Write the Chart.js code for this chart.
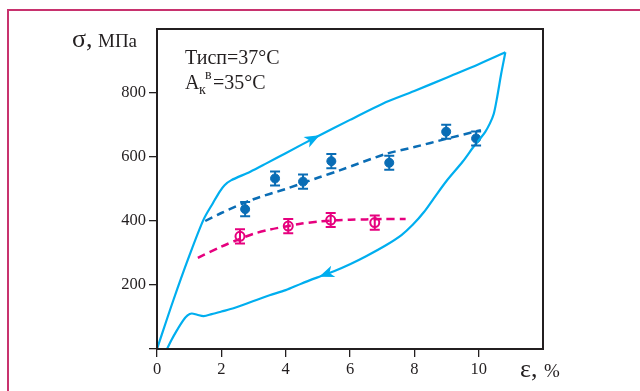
<!DOCTYPE html>
<html>
<head>
<meta charset="utf-8">
<script src="https://cdn.jsdelivr.net/npm/chart.js@4.4.1/dist/chart.umd.min.js"></script>
<style>
  body { margin: 0; background: #fff; }
  #wrap { position: relative; width: 640px; height: 391px; overflow: hidden; }
  #frame { position: absolute; left: 7px; top: 9px; width: 700px; height: 400px;
           border-top: 2px solid #c8326e; border-left: 2px solid #c8326e; }
  #chart { position: absolute; left: 0; top: 0; }
</style>
</head>
<body>
<div id="wrap">
  <div id="frame"></div>
  <canvas id="chart" width="640" height="391"></canvas>
</div>
<script>
// loading branch of the loop (strain %, stress MPa)
const loadStrain = [0, 0.5, 1.0, 1.45, 1.75, 1.95, 2.1, 2.3, 2.9, 3.4, 4, 5, 6, 7, 8, 9, 10, 10.83];
const loadStress = [0, 150, 290, 405, 458, 492, 512, 527, 554, 580, 612, 665, 716, 766, 806, 848, 890, 927];

// unloading branch
const unloadStrain = [10.83, 10.7, 10.58, 10.47, 10.35, 10.2, 10.0, 9.84, 9.5, 9.0, 8.6, 8.3, 7.95, 7.6, 7.13, 6.5, 6.0, 5.5, 5.1, 4.5, 4.0, 3.5, 3.0, 2.4, 2.0, 1.7, 1.45, 1.25, 1.08, 0.95, 0.82, 0.6, 0.45, 0.31];
const unloadStress = [927, 860, 790, 735, 705, 678, 652, 632, 585, 525, 470, 428, 388, 356, 325, 290, 265, 243, 228, 205, 184, 168, 150, 128, 117, 109, 103, 107, 111, 105, 90, 55, 28, 0];

// blue dashed fit
const fitBlueStrain = [1.5, 2, 3, 4, 5, 5.7, 7.1, 8, 9, 10.07];
const fitBlueStress = [400, 425, 468, 500, 535, 559, 609, 631, 657, 684];

// pink dashed fit
const fitPinkStrain = [1.27, 2, 2.6, 3, 3.5, 4, 4.5, 5, 5.5, 6, 6.5, 7, 7.73];
const fitPinkStress = [285, 320, 345, 360, 373, 383, 392, 398, 402, 404, 405, 406, 406];

// measured points with error bars
const blueStrain = [2.74, 3.67, 4.54, 5.42, 7.22, 8.99, 9.92];
const blueStress = [437, 533, 523, 587, 582, 679, 658];
const blueErr = [22, 22, 22, 22, 22, 22, 22];

const pinkStrain = [2.58, 4.08, 5.40, 6.77];
const pinkStress = [352, 384, 403, 395];
const pinkErr = [22, 22, 22, 22];

const xTicks = [0, 2, 4, 6, 8, 10];
const yTicks = [200, 400, 600, 800];

const CYAN = '#00aeef', BLUE = '#0a6db5', PINK = '#e6007e', DARK = '#231f20';
const SERIF = '"Liberation Serif", "DejaVu Serif", serif';

const zip = (xs, ys) => xs.map((x, i) => ({ x: x, y: ys[i] }));

// error bars + arrow heads, drawn through the chart scales
const extras = {
    id: 'extras',
    afterDatasetsDraw(chart) {
        const ctx = chart.ctx;
        const xs = chart.scales.x, ys = chart.scales.y;
        chart.data.datasets.forEach(ds => {
            if (ds.errors) {
                ctx.save();
                ctx.strokeStyle = ds.borderColor;
                ctx.lineWidth = 2;
                ds.data.forEach((p, i) => {
                    const px = xs.getPixelForValue(p.x);
                    const top = ys.getPixelForValue(p.y + ds.errors[i]);
                    const bot = ys.getPixelForValue(p.y - ds.errors[i]);
                    ctx.beginPath();
                    ctx.moveTo(px, top); ctx.lineTo(px, bot);
                    ctx.moveTo(px - 5, top); ctx.lineTo(px + 5, top);
                    ctx.moveTo(px - 5, bot); ctx.lineTo(px + 5, bot);
                    ctx.stroke();
                });
                ctx.restore();
            }
            if (ds.arrowAt !== undefined) {
                const i = ds.arrowAt;
                const a = ds.data[i - 1], b = ds.data[i];
                const x1 = xs.getPixelForValue(a.x), y1 = ys.getPixelForValue(a.y);
                const x2 = xs.getPixelForValue(b.x), y2 = ys.getPixelForValue(b.y);
                const ang = Math.atan2(y2 - y1, x2 - x1);
                ctx.save();
                ctx.translate(x2, y2);
                ctx.rotate(ang);
                ctx.fillStyle = ds.borderColor;
                ctx.beginPath();
                ctx.moveTo(2, 0);
                ctx.lineTo(-13, -6);
                ctx.lineTo(-9, 0);
                ctx.lineTo(-13, 6);
                ctx.closePath();
                ctx.fill();
                ctx.restore();
            }
        });
    },
    afterDraw(chart) {
        const ctx = chart.ctx;
        const a = chart.chartArea;
        ctx.save();
        ctx.strokeStyle = DARK;
        ctx.lineWidth = 2;
        ctx.strokeRect(a.left, a.top, a.right - a.left, a.bottom - a.top);

        ctx.fillStyle = DARK;
        ctx.textBaseline = 'alphabetic';
        ctx.font = '26px ' + SERIF;
        ctx.fillText('σ,', 72, 47);
        ctx.font = '19px ' + SERIF;
        ctx.fillText('МПа', 98, 47);

        ctx.font = '26px ' + SERIF;
        ctx.fillText('ε,', 520, 377);
        ctx.font = '19px ' + SERIF;
        ctx.fillText('%', 544, 377);

        ctx.font = '20px ' + SERIF;
        ctx.fillText('Тисп=37°С', 185, 64);
        ctx.fillText('A', 185, 89);
        ctx.font = '14px ' + SERIF;
        ctx.fillText('к', 199, 94);
        ctx.fillText('в', 205, 79);
        ctx.font = '20px ' + SERIF;
        ctx.fillText('=35°С', 213, 89);
        ctx.restore();
    }
};

new Chart(document.getElementById('chart'), {
    type: 'scatter',
    data: {
        datasets: [
            {
                data: zip(loadStrain, loadStress), showLine: true, borderColor: CYAN,
                borderWidth: 2.2, pointRadius: 0, tension: 0.3, arrowAt: 11
            },
            {
                data: zip(unloadStrain, unloadStress), showLine: true, borderColor: CYAN,
                borderWidth: 2.2, pointRadius: 0, tension: 0.3, arrowAt: 18
            },
            {
                data: zip(fitBlueStrain, fitBlueStress), showLine: true, borderColor: BLUE,
                borderWidth: 2.5, borderDash: [8, 5], pointRadius: 0, tension: 0.3
            },
            {
                data: zip(fitPinkStrain, fitPinkStress), showLine: true, borderColor: PINK,
                borderWidth: 2.5, borderDash: [8, 5], pointRadius: 0, tension: 0.3
            },
            {
                data: zip(blueStrain, blueStress), showLine: false, borderColor: BLUE,
                backgroundColor: BLUE, pointRadius: 4.5, pointBorderWidth: 1, errors: blueErr
            },
            {
                data: zip(pinkStrain, pinkStress), showLine: false, borderColor: PINK,
                backgroundColor: 'rgba(255,255,255,0)', pointRadius: 4.5, pointBorderWidth: 2,
                errors: pinkErr
            }
        ]
    },
    options: {
        responsive: false,
        animation: false,
        layout: { padding: { left: 0, top: 29, right: 97, bottom: 0 } },
        plugins: { legend: { display: false }, tooltip: { enabled: false } },
        scales: {
            x: {
                type: 'linear', min: 0, max: 12,
                afterFit: s => { s.height = 42; },
                afterBuildTicks: s => { s.ticks = xTicks.map(v => ({ value: v })); },
                ticks: { color: DARK, font: { family: SERIF, size: 16.5 }, padding: 3, maxRotation: 0 },
                grid: { drawOnChartArea: false, drawTicks: true, tickLength: 8, color: DARK, lineWidth: 1.3 },
                border: { display: true, color: DARK, width: 2 }
            },
            y: {
                type: 'linear', min: 0, max: 1000,
                afterFit: s => { s.width = 157; },
                afterBuildTicks: s => { s.ticks = [0].concat(yTicks).map(v => ({ value: v })); },
                ticks: {
                    color: DARK, font: { family: SERIF, size: 16.5 }, padding: 3,
                    callback: v => (v === 0 ? '' : v)
                },
                grid: { drawOnChartArea: false, drawTicks: true, tickLength: 8, color: DARK, lineWidth: 1.3 },
                border: { display: true, color: DARK, width: 2 }
            }
        }
    },
    plugins: [extras]
});
</script>
</body>
</html>
